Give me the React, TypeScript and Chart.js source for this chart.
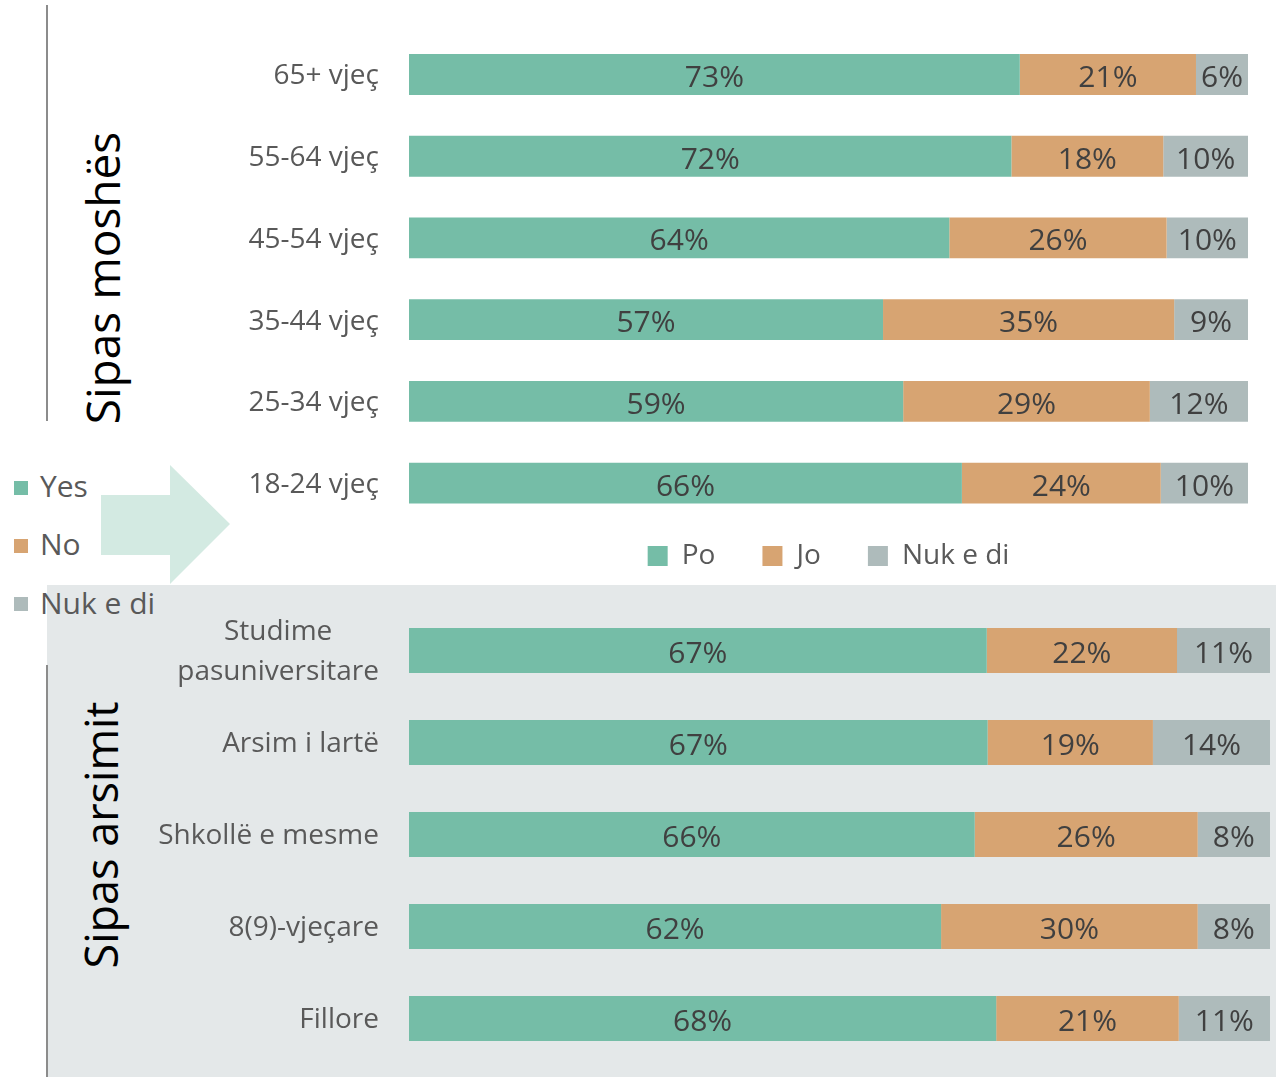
import React, { useEffect, useRef } from 'react';
import { Chart, registerables } from 'chart.js';

Chart.register(...registerables);

// ---------- data ----------
const seriesNames = ['Po', 'Jo', 'Nuk e di'];
const seriesColors = ['#75BDA7', '#D7A472', '#AEBBBB'];

const ageLabels = ['65+ vjeç', '55-64 vjeç', '45-54 vjeç', '35-44 vjeç', '25-34 vjeç', '18-24 vjeç'];
const agePo = [72.8, 71.8, 64.4, 56.5, 58.9, 65.9];
const ageJo = [21.0, 18.1, 25.9, 34.7, 29.4, 23.7];
const ageNuk = [6.2, 10.1, 9.7, 8.8, 11.7, 10.4];

const eduLabels: (string | string[])[] = [
  ['Studime', 'pasuniversitare'],
  'Arsim i lartë',
  'Shkollë e mesme',
  '8(9)-vjeçare',
  'Fillore',
];
const eduPo = [67.1, 67.2, 65.7, 61.8, 68.2];
const eduJo = [22.1, 19.2, 25.9, 29.8, 21.2];
const eduNuk = [10.8, 13.6, 8.4, 8.4, 10.6];

const sideLegendNames = ['Yes', 'No', 'Nuk e di'];
const groupTitles = ['Sipas moshës', 'Sipas arsimit'];

const FONT = '"Open Sans", "Noto Sans", sans-serif';

// ---------- plugins ----------
const valueLabelPlugin = {
  id: 'valueLabels',
  afterDatasetsDraw(chart: any) {
    const ctx = chart.ctx;
    ctx.save();
    ctx.font = `30px ${FONT}`;
    ctx.fillStyle = '#404040';
    ctx.textAlign = 'center';
    ctx.textBaseline = 'middle';
    chart.data.datasets.forEach((ds: any, i: number) => {
      const meta = chart.getDatasetMeta(i);
      meta.data.forEach((bar: any, j: number) => {
        const p = bar.getProps(['x', 'y', 'base'], true);
        ctx.fillText(Math.round(ds.data[j]) + '%', (p.x + p.base) / 2, p.y + 4);
      });
    });
    ctx.restore();
  },
};

// category labels: right-aligned; multi-line labels centred on each other
const categoryTickPlugin = {
  id: 'categoryTicks',
  afterDraw(chart: any) {
    const scale = chart.scales.y;
    const ctx = chart.ctx;
    ctx.save();
    ctx.font = `28px ${FONT}`;
    ctx.fillStyle = '#595959';
    ctx.textBaseline = 'middle';
    const right = scale.right - 30;
    chart.data.labels.forEach((lab: any, i: number) => {
      const y = scale.getPixelForTick(i) + 2;
      if (Array.isArray(lab)) {
        const w = Math.max(...lab.map((s: string) => ctx.measureText(s).width));
        ctx.textAlign = 'center';
        lab.forEach((s: string, k: number) => {
          ctx.fillText(s, right - w / 2, y + (k - (lab.length - 1) / 2) * 40);
        });
      } else {
        ctx.textAlign = 'right';
        ctx.fillText(lab, right, y);
      }
    });
    ctx.restore();
  },
};

function makeDatasets(values: number[][], barPct: number) {
  return values.map((data, i) => ({
    label: seriesNames[i],
    data,
    backgroundColor: seriesColors[i],
    borderWidth: 0,
    barPercentage: barPct,
    categoryPercentage: 1,
  }));
}

const yScale = {
  stacked: true,
  grid: { display: false, drawTicks: false },
  border: { display: false },
  ticks: { display: false },
  afterFit: (s: any) => {
    s.width = 259;
    s.paddingTop = 0;
    s.paddingBottom = 0;
  },
};

function AgeChart() {
  const ref = useRef<HTMLCanvasElement | null>(null);
  useEffect(() => {
    if (!ref.current) return;
    const chart = new Chart(ref.current, {
      type: 'bar',
      data: {
        labels: ageLabels,
        datasets: makeDatasets([agePo, ageJo, ageNuk], 0.5) as any,
      },
      options: {
        indexAxis: 'y',
        animation: false,
        responsive: true,
        maintainAspectRatio: false,
        layout: { padding: { top: 33.6, right: 28, bottom: 10, left: 0 } },
        scales: {
          x: { stacked: true, display: false, min: 0, max: 100 },
          y: yScale,
        },
        plugins: {
          tooltip: { enabled: false },
          legend: {
            position: 'bottom',
            fullSize: false,
            labels: {
              color: '#595959',
              font: { family: FONT, size: 28 },
              boxWidth: 20,
              boxHeight: 20,
              padding: 18,
              generateLabels: (c: any) => {
                const items = Chart.defaults.plugins.legend.labels.generateLabels(c);
                return items.map((it: any, k: number) => ({
                  ...it,
                  text: k < items.length - 1 ? it.text + '    ' : it.text,
                }));
              },
            },
          },
        },
      } as any,
      plugins: [valueLabelPlugin, categoryTickPlugin],
    });
    let alive = true;
    (document as any).fonts?.ready?.then(() => {
      if (alive) chart.update();
    });
    return () => {
      alive = false;
      chart.destroy();
    };
  }, []);
  return (
    <div style={{ position: 'absolute', left: 150, top: 0, width: 1126, height: 590 }}>
      <canvas ref={ref} />
    </div>
  );
}

function EduChart() {
  const ref = useRef<HTMLCanvasElement | null>(null);
  useEffect(() => {
    if (!ref.current) return;
    const chart = new Chart(ref.current, {
      type: 'bar',
      data: {
        labels: eduLabels,
        datasets: makeDatasets([eduPo, eduJo, eduNuk], 0.49) as any,
      },
      options: {
        indexAxis: 'y',
        animation: false,
        responsive: true,
        maintainAspectRatio: false,
        layout: { padding: { top: 19.5, right: 6, bottom: 12.5, left: 0 } },
        scales: {
          x: { stacked: true, display: false, min: 0, max: 100 },
          y: yScale,
        },
        plugins: {
          tooltip: { enabled: false },
          legend: { display: false },
        },
      } as any,
      plugins: [valueLabelPlugin, categoryTickPlugin],
    });
    let alive = true;
    (document as any).fonts?.ready?.then(() => {
      if (alive) chart.update();
    });
    return () => {
      alive = false;
      chart.destroy();
    };
  }, []);
  return (
    <div style={{ position: 'absolute', left: 150, top: 585, width: 1126, height: 492 }}>
      <canvas ref={ref} />
    </div>
  );
}

function VerticalTitle({ text, cx, cy, size }: { text: string; cx: number; cy: number; size: number }) {
  return (
    <div
      style={{
        position: 'absolute',
        left: cx,
        top: cy,
        transform: 'translate(-50%, -50%) rotate(-90deg)',
        whiteSpace: 'nowrap',
        fontFamily: FONT,
        fontSize: size,
        lineHeight: `${size}px`,
        color: '#000',
      }}
    >
      {text}
    </div>
  );
}

export default function App() {
  const sideTops = [471, 529, 588];
  const sideBoxTops = [481, 539, 597];
  return (
    <div
      style={{
        position: 'absolute',
        left: 0,
        top: 0,
        width: 1276,
        height: 1077,
        background: '#fff',
        overflow: 'hidden',
        fontFamily: FONT,
      }}
    >
      {/* grey panel behind education chart */}
      <div style={{ position: 'absolute', left: 47, top: 585, width: 1229, height: 492, background: '#E4E8E9' }} />
      {/* vertical separators */}
      <div style={{ position: 'absolute', left: 46, top: 5, width: 2, height: 416, background: '#8C8C8C' }} />
      <div style={{ position: 'absolute', left: 46, top: 665, width: 2, height: 412, background: '#8C8C8C' }} />
      {/* arrow */}
      <svg style={{ position: 'absolute', left: 0, top: 0 }} width={1276} height={1077}>
        <polygon points="101,495 170,495 170,465 230,524 170,584 170,555 101,555" fill="#D3EAE2" />
      </svg>
      <VerticalTitle text={groupTitles[0]} cx={102} cy={277.5} size={46} />
      <VerticalTitle text={groupTitles[1]} cx={100} cy={835} size={45} />
      {/* side legend */}
      {sideLegendNames.map((name, i) => (
        <React.Fragment key={name}>
          <div
            style={{
              position: 'absolute',
              left: 14,
              top: sideBoxTops[i],
              width: 14,
              height: 14,
              background: seriesColors[i],
            }}
          />
          <div
            style={{
              position: 'absolute',
              left: 40,
              top: sideTops[i],
              fontSize: 30,
              lineHeight: '30px',
              color: '#595959',
              whiteSpace: 'nowrap',
            }}
          >
            {name}
          </div>
        </React.Fragment>
      ))}
      <AgeChart />
      <EduChart />
    </div>
  );
}
